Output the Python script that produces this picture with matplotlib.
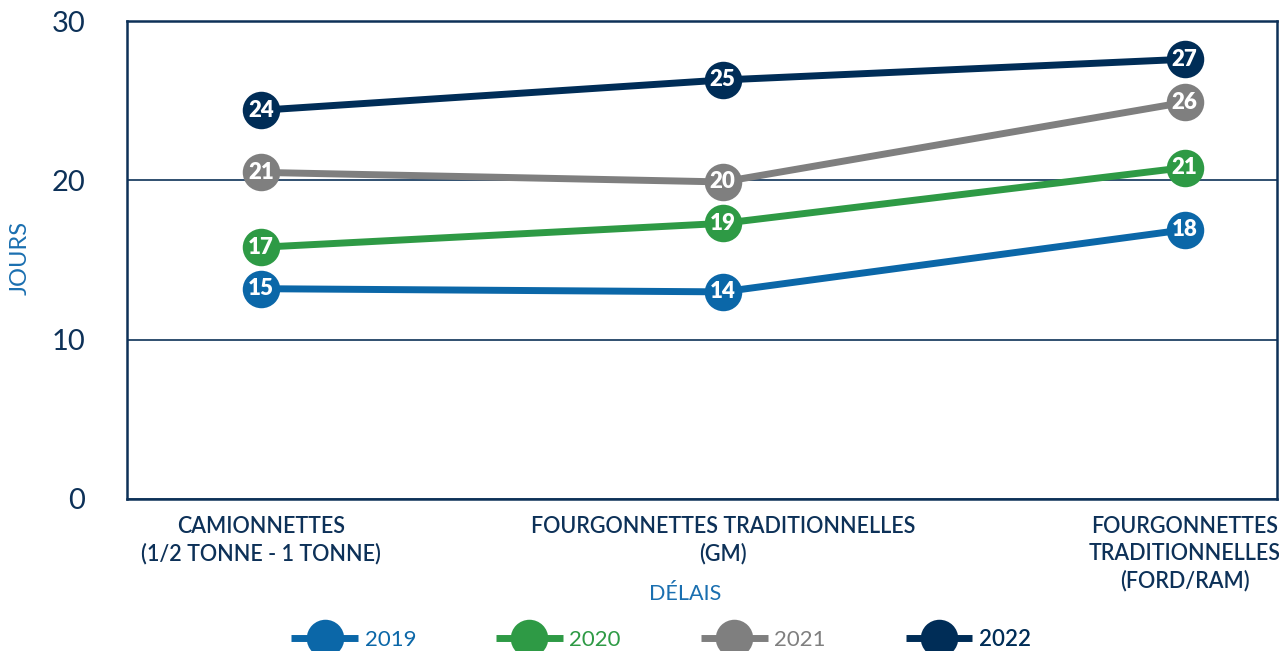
import numpy as np
import matplotlib
matplotlib.use("Agg")
import matplotlib.pyplot as plt

plt.rcParams['font.family'] = ['Lato', 'DejaVu Sans']

# data
categories = ["CAMIONNETTES\n(1/2 TONNE - 1 TONNE)",
              "FOURGONNETTES TRADITIONNELLES\n(GM)",
              "FOURGONNETTES\nTRADITIONNELLES\n(FORD/RAM)"]
years = ["2019", "2020", "2021", "2022"]
# plotted positions as drawn in the source chart
values_2019 = [13.2, 13.0, 16.9]
values_2020 = [15.8, 17.3, 20.8]
values_2021 = [20.5, 19.9, 24.9]
values_2022 = [24.4, 26.3, 27.6]
# numbers printed inside the markers
labels_2019 = [15, 14, 18]
labels_2020 = [17, 19, 21]
labels_2021 = [21, 20, 26]
labels_2022 = [24, 25, 27]

series = [values_2019, values_2020, values_2021, values_2022]
labels = [labels_2019, labels_2020, labels_2021, labels_2022]
colors = ["#0b67a8", "#2e9a45", "#7f7f7f", "#002d57"]
navy = "#0d3158"
blue = "#1a6fb0"

fig = plt.figure(figsize=(12.79, 6.51), dpi=100)
ax = fig.add_axes([0.0993, 0.2335, 0.8991, 0.7342])

x = np.arange(len(categories))
handles = []
for vals, labs, col, yr in zip(series, labels, colors, years):
    h, = ax.plot(x, vals, color=col, lw=5, marker='o', markersize=27,
                 markeredgewidth=0, solid_capstyle='butt', zorder=3, label=yr)
    handles.append(h)
    for xi, v, lab in zip(x, vals, labs):
        ax.text(xi, v, str(lab), ha='center', va='center', color='white',
                fontsize=16, fontweight='heavy', zorder=4)

ax.set_xlim(-0.29, 2.2)
ax.set_ylim(0, 30)
ax.set_yticks([0, 10, 20, 30])
ax.grid(axis='y', color=navy, lw=1.2)
ax.set_axisbelow(True)
for s in ax.spines.values():
    s.set_color(navy)
    s.set_linewidth(1.8)
ax.tick_params(axis='y', length=0, pad=30, labelsize=21, labelcolor=navy)
ax.tick_params(axis='x', length=0, pad=12, labelsize=15.5, labelcolor=navy)
ax.set_xticks(x)
ax.set_xticklabels(categories, fontweight='semibold', linespacing=1.35)

ax.set_xlabel("DÉLAIS", color=blue, fontsize=15.5)
ax.xaxis.set_label_coords(0.485, -0.178)
fig.text(20 / 1279, 1 - 258 / 651, "JOURS", color=blue, fontsize=17,
         rotation=90, ha='center', va='center')

leg = fig.legend(handles=handles, loc='center', bbox_to_anchor=(0.517, 0.018),
                 ncol=4, frameon=False, fontsize=16, handlelength=3.0,
                 handletextpad=0.3, columnspacing=3.6, markerscale=1.0)
for txt, col in zip(leg.get_texts(), colors):
    txt.set_color(col)
leg.get_texts()[3].set_fontweight('semibold')

fig.savefig("out.png", dpi=100)
